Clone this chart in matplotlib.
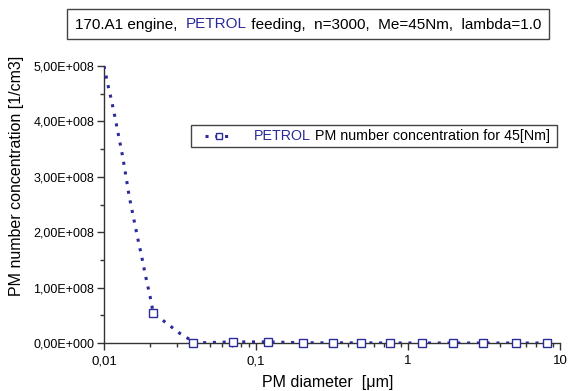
import matplotlib
matplotlib.use("Agg")
import matplotlib.pyplot as plt
from matplotlib.ticker import FixedLocator, FuncFormatter, LogLocator, NullFormatter
from matplotlib.lines import Line2D
from matplotlib.patches import Rectangle

plt.rcParams['font.family'] = ['Liberation Sans', 'DejaVu Sans']

# punkty pomiarowe (z markerami)
diam = [0.0211, 0.0387, 0.0709, 0.1205, 0.203, 0.320, 0.489, 0.762,
        1.23, 1.97, 3.13, 5.14, 8.17]
conc = [5.4e7, 0.0, 2.0e6, 2.0e6, 0.5e6, 0.3e6, 0.2e6, 0.0,
        0.0, 0.0, 0.0, 0.0, 0.0]

# przebieg krzywej (bez markerow)
curve_d = [0.0100, 0.01067, 0.01112, 0.0118, 0.01256, 0.01328, 0.01396,
           0.01466, 0.01559, 0.01667, 0.0177, 0.0188, 0.0201, 0.0211,
           0.0233, 0.0272, 0.0313, 0.0368, 0.0387]
curve_c = [5.0e8, 4.63e8, 4.42e8, 4.08e8, 3.70e8, 3.36e8, 3.00e8,
           2.64e8, 2.28e8, 1.89e8, 1.56e8, 1.20e8, 0.84e8, 0.54e8,
           0.45e8, 0.31e8, 0.18e8, 0.06e8, 0.0]

yticks = [0, 1e8, 2e8, 3e8, 4e8, 5e8]
ytick_labels = ['0,00E+000', '1,00E+008', '2,00E+008', '3,00E+008', '4,00E+008', '5,00E+008']
xticks = [0.01, 0.1, 1, 10]
xtick_labels = ['0,01', '0,1', '1', '10']

blue = '#2b2b99'
dots = (0, (1.0, 2.2))

fig = plt.figure(figsize=(5.69, 3.91), dpi=100)
ax = fig.add_axes([104/569, 1-343/391, (560-104)/569, (343-66)/391])

ax.plot(curve_d, curve_c, color=blue, lw=2.2, ls=dots, zorder=3)
ax.plot(diam[1:], conc[1:], color=blue, lw=2.2, ls=dots, zorder=3)
ax.plot(diam, conc, ls='none', marker='s', ms=6, mfc='white', mec=blue, mew=1.0,
        zorder=4, clip_on=False)

ax.set_xscale('log')
ax.set_xlim(0.01, 10)
ax.set_ylim(0, 5e8)

ax.xaxis.set_major_locator(FixedLocator(xticks))
ax.xaxis.set_major_formatter(FuncFormatter(lambda v, p: xtick_labels[xticks.index(v)] if v in xticks else ''))
ax.xaxis.set_minor_locator(LogLocator(base=10, subs=[2, 3, 4, 5, 6, 7, 8, 9]))
ax.xaxis.set_minor_formatter(NullFormatter())
ax.set_yticks(yticks)
ax.set_yticklabels(ytick_labels)
ax.set_yticks([0.5e8, 1.5e8, 2.5e8, 3.5e8, 4.5e8], minor=True)

for s in ['top', 'right']:
    ax.spines[s].set_visible(False)
for s in ['left', 'bottom']:
    ax.spines[s].set_linewidth(1.0)
    ax.spines[s].set_color('#333333')
ax.tick_params(which='major', direction='out', length=5, width=1.0, color='#333333',
               labelsize=9, pad=2)
ax.tick_params(which='minor', direction='out', length=3, width=1.0, color='#333333')
ax.tick_params(axis='x', labelsize=9.5, pad=4)

fig.text(328/569, 1-382/391, 'PM diameter  [\u03bcm]', fontsize=11.5, ha='center', va='center')
fig.text(17/569, 1-176/391, 'PM number concentration [1/cm3]', fontsize=11.5,
         rotation=90, ha='center', va='center')

# ramka z opisem
fig.patches.append(Rectangle((67/569, 1-39.3/391), (549-67)/569, 30.3/391,
                             transform=fig.transFigure, fill=False, ec='#444444', lw=1.0))
t1 = fig.text(75/569, 1-24.5/391, '170.A1 engine,  ', fontsize=11, ha='left', va='center')
t2 = plt.annotate('PETROL', xy=(1, 0), xycoords=t1, fontsize=11, color=blue,
                  ha='left', va='bottom', annotation_clip=False)
t3 = plt.annotate(' feeding,  n=3000,  Me=45Nm,  lambda=1.0', xy=(1, 0), xycoords=t2,
                  fontsize=11, ha='left', va='bottom', annotation_clip=False)

# legenda
fig.patches.append(Rectangle((191/569, 1-147/391), (557-191)/569, 22/391,
                             transform=fig.transFigure, fill=False, ec='#444444', lw=1.0))
fig.lines.append(Line2D([205/569, 233/569], [1-136/391, 1-136/391], transform=fig.transFigure,
                        color=blue, lw=2.2, ls=dots))
fig.lines.append(Line2D([219/569], [1-136/391], transform=fig.transFigure, ls='none',
                        marker='s', ms=5, mfc='white', mec=blue, mew=1.0))
l1 = fig.text(254/569, 1-136/391, 'PETROL', fontsize=10.3, color=blue, ha='left', va='center')
plt.annotate(' PM number concentration for 45[Nm]', xy=(1, 0), xycoords=l1,
             fontsize=10.3, ha='left', va='bottom', annotation_clip=False)

fig.savefig('out.png', dpi=100)
